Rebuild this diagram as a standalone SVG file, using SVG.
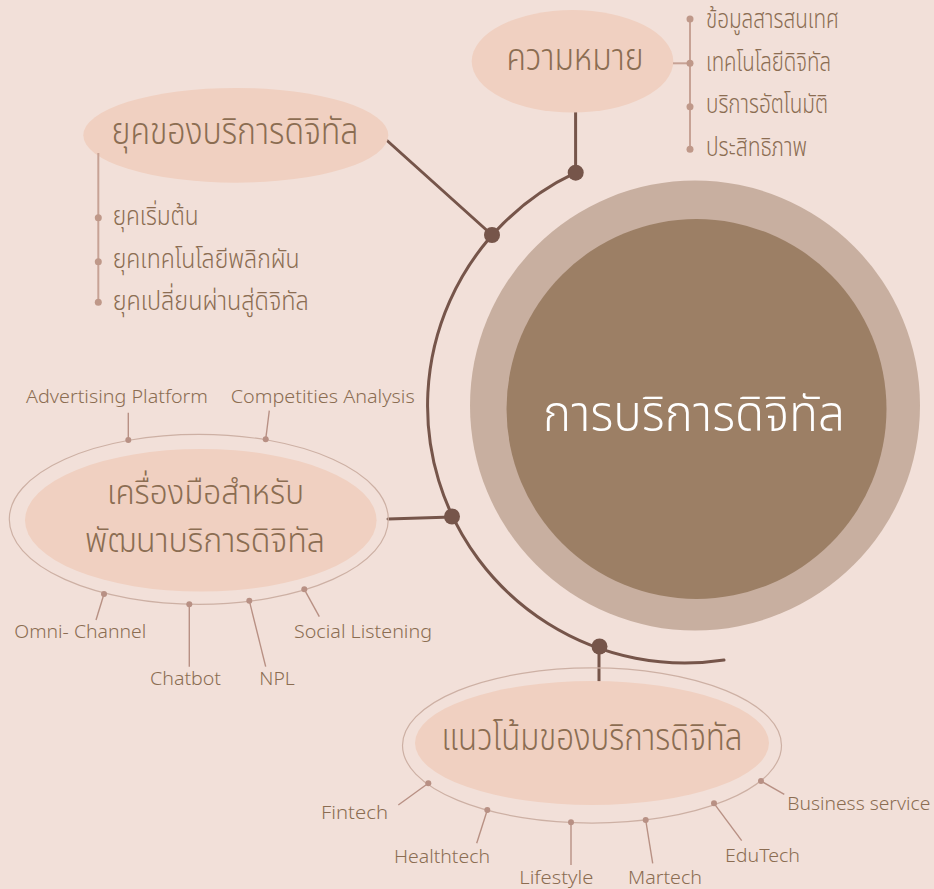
<svg xmlns="http://www.w3.org/2000/svg" width="934" height="889" viewBox="0 0 934 889">
  <style>
    .th { font-family: "Noto Sans Thai", "Noto Sans", "DejaVu Sans", sans-serif; font-weight: 300; fill: #8B6D52; }
    .lbl { font-family: "Noto Sans", "Open Sans", sans-serif; font-weight: 300; font-size: 19px; fill: #8B6D52; }
    .node-fill { fill: #F0D0C1; }
    .ring { fill: none; stroke: #CDB0A4; stroke-width: 1.2; }
    .link { fill: none; stroke: #76554A; stroke-width: 3; stroke-linecap: round; }
    .hub { fill: #76554A; }
    .list-line { fill: none; stroke: #C7A295; stroke-width: 2; }
    .list-dot { fill: #BF9889; }
    .leader { fill: none; stroke: #B89084; stroke-width: 1.4; }
    .leader-dot { fill: #B89084; }
  </style>

  <!-- background -->
  <rect x="0" y="0" width="934" height="889" fill="#F2E0D9"/>

  <!-- central topic -->
  <g id="center">
    <circle cx="695" cy="405.5" r="225" fill="#C8AFA0"/>
    <circle cx="696.5" cy="409" r="190" fill="#9C7F65"/>
    <text class="th" x="694" y="430.5" font-size="50" text-anchor="middle" textLength="302" lengthAdjust="spacingAndGlyphs" style="fill:#FFFFFF">การบริการดิจิทัล</text>
  </g>

  <!-- connectors: main arc, branch lines and junction dots -->
  <g id="connectors">
    <path class="link" d="M575.7,172.7 A257.3,257.3 0 0 0 724,660"/>
    <line class="link" x1="575.6" y1="112" x2="575.6" y2="172.7"/>
    <line class="link" x1="387" y1="140.5" x2="492" y2="235"/>
    <line class="link" x1="388" y1="519" x2="452" y2="517"/>
    <line class="link" x1="599" y1="647" x2="599" y2="681"/>
    <circle class="hub" cx="575.7" cy="172.7" r="8"/>
    <circle class="hub" cx="492" cy="235" r="8"/>
    <circle class="hub" cx="452" cy="516.5" r="8"/>
    <circle class="hub" cx="599.5" cy="646.5" r="8"/>
  </g>

  <!-- node: meaning -->
  <g id="node-meaning">
    <ellipse class="node-fill" cx="572.5" cy="61.3" rx="100.8" ry="51.3"/>
    <text class="th" x="575" y="69.5" font-size="37" text-anchor="middle" textLength="137" lengthAdjust="spacingAndGlyphs">ความหมาย</text>
    <line class="list-line" x1="673" y1="63.3" x2="690" y2="63.3"/>
    <line class="list-line" x1="690" y1="19" x2="690" y2="149.3"/>
    <circle class="list-dot" cx="690" cy="19" r="3.5"/>
    <circle class="list-dot" cx="690" cy="63.3" r="3.5"/>
    <circle class="list-dot" cx="690" cy="106.7" r="3.5"/>
    <circle class="list-dot" cx="690" cy="149.3" r="3.5"/>
    <text class="th" x="706" y="28.3" font-size="27" textLength="133" lengthAdjust="spacingAndGlyphs">ข้อมูลสารสนเทศ</text>
    <text class="th" x="706" y="70.7" font-size="27" textLength="125" lengthAdjust="spacingAndGlyphs">เทคโนโลยีดิจิทัล</text>
    <text class="th" x="706" y="113.3" font-size="27" textLength="122" lengthAdjust="spacingAndGlyphs">บริการอัตโนมัติ</text>
    <text class="th" x="706" y="156" font-size="27" textLength="101" lengthAdjust="spacingAndGlyphs">ประสิทธิภาพ</text>
  </g>

  <!-- node: eras of digital services -->
  <g id="node-eras">
    <ellipse class="node-fill" cx="235.8" cy="135.3" rx="152.5" ry="47.4"/>
    <text class="th" x="235" y="143.5" font-size="37" text-anchor="middle" textLength="247" lengthAdjust="spacingAndGlyphs">ยุคของบริการดิจิทัล</text>
    <line class="list-line" x1="98.3" y1="153" x2="98.3" y2="302.3"/>
    <circle class="list-dot" cx="98.3" cy="217.7" r="3.5"/>
    <circle class="list-dot" cx="98.3" cy="261.7" r="3.5"/>
    <circle class="list-dot" cx="98.3" cy="302.3" r="3.5"/>
    <text class="th" x="112.7" y="225" font-size="27" textLength="86" lengthAdjust="spacingAndGlyphs">ยุคเริ่มต้น</text>
    <text class="th" x="112.7" y="268" font-size="27" textLength="187" lengthAdjust="spacingAndGlyphs">ยุคเทคโนโลยีพลิกผัน</text>
    <text class="th" x="112.7" y="310" font-size="27" textLength="196" lengthAdjust="spacingAndGlyphs">ยุคเปลี่ยนผ่านสู่ดิจิทัล</text>
  </g>

  <!-- node: tools for developing digital services (two-line title) -->
  <g id="node-tools">
    <ellipse class="ring" cx="198.8" cy="519.3" rx="189.5" ry="85"/>
    <ellipse class="node-fill" cx="200.8" cy="520.3" rx="175.8" ry="71.3"/>
    <text class="th" x="205.5" y="504" font-size="34" text-anchor="middle" textLength="197" lengthAdjust="spacingAndGlyphs">เครื่องมือสำหรับ</text>
    <text class="th" x="205" y="551.7" font-size="34" text-anchor="middle" textLength="240" lengthAdjust="spacingAndGlyphs">พัฒนาบริการดิจิทัล</text>

    <line class="leader" x1="128.3" y1="412.7" x2="128.3" y2="440"/>
    <circle class="leader-dot" cx="128.3" cy="440" r="3"/>
    <text class="lbl" x="26" y="403.3" textLength="182" lengthAdjust="spacingAndGlyphs">Advertising Platform</text>

    <line class="leader" x1="269.3" y1="410.7" x2="265.7" y2="439.3"/>
    <circle class="leader-dot" cx="265.7" cy="439.3" r="3"/>
    <text class="lbl" x="230.7" y="403.3" textLength="184" lengthAdjust="spacingAndGlyphs">Competities Analysis</text>

    <line class="leader" x1="96" y1="620" x2="104" y2="594"/>
    <circle class="leader-dot" cx="104" cy="594" r="3"/>
    <text class="lbl" x="14.3" y="638.3" textLength="132" lengthAdjust="spacingAndGlyphs">Omni- Channel</text>

    <line class="leader" x1="189.3" y1="666.7" x2="189.3" y2="604.3"/>
    <circle class="leader-dot" cx="189.3" cy="604.3" r="3"/>
    <text class="lbl" x="150" y="685" textLength="71" lengthAdjust="spacingAndGlyphs">Chatbot</text>

    <line class="leader" x1="265.7" y1="666.7" x2="249.3" y2="600.7"/>
    <circle class="leader-dot" cx="249.3" cy="600.7" r="3"/>
    <text class="lbl" x="259.3" y="685" textLength="35.5" lengthAdjust="spacingAndGlyphs">NPL</text>

    <line class="leader" x1="319.3" y1="616.7" x2="304.3" y2="589.3"/>
    <circle class="leader-dot" cx="304.3" cy="589.3" r="3"/>
    <text class="lbl" x="294" y="638.3" textLength="138" lengthAdjust="spacingAndGlyphs">Social Listening</text>
  </g>

  <!-- node: trends of digital services -->
  <g id="node-trends">
    <ellipse class="ring" cx="592" cy="745.5" rx="189.5" ry="77.6"/>
    <ellipse class="node-fill" cx="592" cy="743" rx="177" ry="62"/>
    <text class="th" x="592" y="750" font-size="37" text-anchor="middle" textLength="301" lengthAdjust="spacingAndGlyphs">แนวโน้มของบริการดิจิทัล</text>

    <line class="leader" x1="398.3" y1="805" x2="428.3" y2="783.3"/>
    <circle class="leader-dot" cx="428.3" cy="783.3" r="3"/>
    <text class="lbl" x="321" y="818.5" textLength="67" lengthAdjust="spacingAndGlyphs">Fintech</text>

    <line class="leader" x1="476.7" y1="843.3" x2="487.3" y2="810"/>
    <circle class="leader-dot" cx="487.3" cy="810" r="3"/>
    <text class="lbl" x="394" y="862.7" textLength="96" lengthAdjust="spacingAndGlyphs">Healthtech</text>

    <line class="leader" x1="571" y1="865" x2="571" y2="822.3"/>
    <circle class="leader-dot" cx="571" cy="822.3" r="3"/>
    <text class="lbl" x="519.3" y="884" textLength="74" lengthAdjust="spacingAndGlyphs">Lifestyle</text>

    <line class="leader" x1="652.7" y1="863.3" x2="645.7" y2="820"/>
    <circle class="leader-dot" cx="645.7" cy="820" r="3"/>
    <text class="lbl" x="628" y="884" textLength="74" lengthAdjust="spacingAndGlyphs">Martech</text>

    <line class="leader" x1="741.7" y1="840.7" x2="714" y2="803.3"/>
    <circle class="leader-dot" cx="714" cy="803.3" r="3"/>
    <text class="lbl" x="725" y="861.7" textLength="75" lengthAdjust="spacingAndGlyphs">EduTech</text>

    <line class="leader" x1="784.3" y1="794.3" x2="761" y2="781"/>
    <circle class="leader-dot" cx="761" cy="781" r="3"/>
    <text class="lbl" x="787.3" y="810" textLength="143" lengthAdjust="spacingAndGlyphs">Business service</text>
  </g>
</svg>
